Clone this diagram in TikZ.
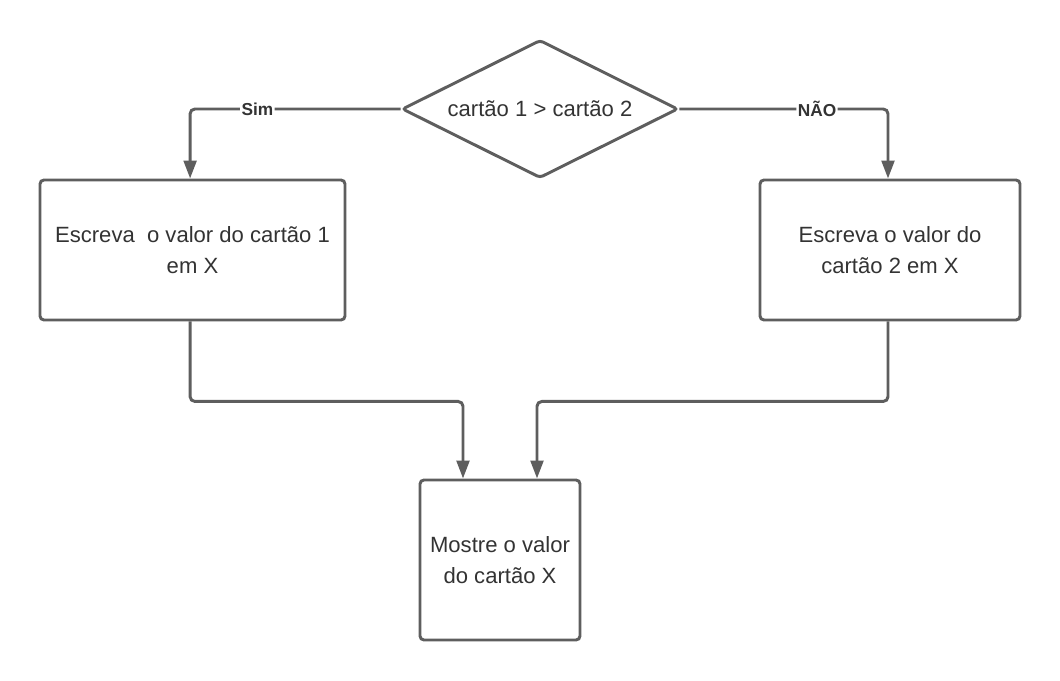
\documentclass[tikz,border=0pt]{standalone}
\usepackage{fontspec}
\setmainfont{Liberation Sans}
\usepackage{tikz}
\usetikzlibrary{arrows.meta, positioning, shapes.geometric}
\definecolor{linegray}{RGB}{94,94,94}
\definecolor{textgray}{RGB}{51,51,51}

\begin{document}
\begin{tikzpicture}[
    line width=2.1pt, draw=linegray, text=textgray,
    font=\fontsize{15.7}{22}\selectfont,
    box/.style={draw=linegray, rounded corners=0.1cm, align=center, inner sep=0},
    decision/.style={draw=linegray, diamond, aspect=2, rounded corners=0.08cm, inner sep=0, minimum width=6.9cm, minimum height=3.45cm},
    flow/.style={draw=linegray, rounded corners=0.12cm, -{Triangle[length=4.5mm, width=3.2mm]}},
    lbl/.style={fill=white, inner sep=1pt, font=\fontsize{12.3}{14}\bfseries\selectfont}
  ]
  \useasboundingbox (0,0) rectangle (26.5,17);

  % Decision
  \node[decision] (test) at (13.5,14.275) {cartão 1 > cartão 2};

  % Boxes
  \node[box, minimum width=7.625cm, minimum height=3.5cm] (left) at (4.8125,10.75) {Escreva~ o valor do cartão 1\\em X};
  \node[box, minimum width=6.5cm, minimum height=3.5cm] (right) at (22.25,10.75) {Escreva o valor do\\cartão 2 em X};
  \node[box, minimum width=4cm, minimum height=4cm] (show) at (12.5,3) {Mostre o valor\\do cartão X};

  % Branches
  \draw[flow] (test.west) -| node[lbl, pos=0.34] {Sim} ([xshift=-0.06cm]left.north);
  \draw[flow] (test.east) -| node[lbl, pos=0.33] {NÃO} ([xshift=-0.05cm]right.north);

  % Merge
  \draw[flow] ([xshift=-0.06cm]left.south) -- ++(0,-2) -| ([xshift=-0.925cm]show.north);
  \draw[flow] ([xshift=-0.05cm]right.south) -- ++(0,-2) -| ([xshift=0.925cm]show.north);
\end{tikzpicture}
\end{document}
